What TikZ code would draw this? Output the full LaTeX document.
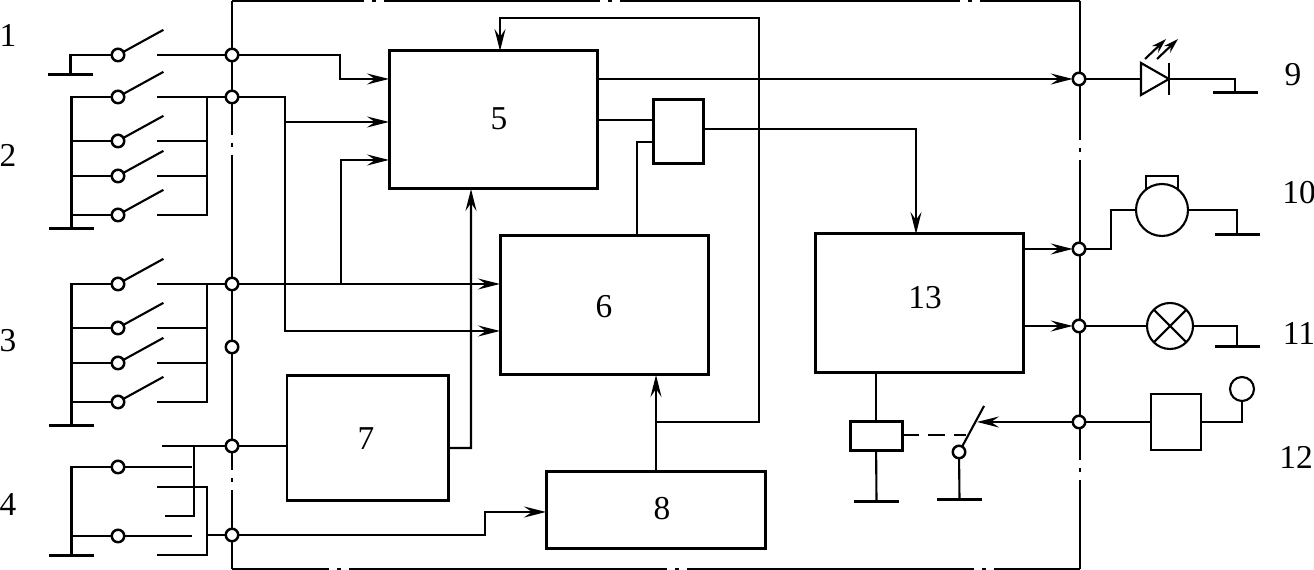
\documentclass[tikz,border=0pt]{standalone}
\usepackage{fontspec}
\setmainfont{Liberation Serif}
\usetikzlibrary{arrows.meta, positioning, calc}

\begin{document}
\begin{tikzpicture}[
    line width=0.6pt,
    >={Stealth[length=0.22cm, width=0.11cm, inset=0.08cm]},
    block/.style={rectangle, draw, line width=0.85pt, inner sep=0pt, outer sep=0pt},
    plainbox/.style={rectangle, draw, inner sep=0pt, outer sep=0pt},
    term/.style={circle, draw, fill=white, line width=0.7pt, minimum size=0.125cm, inner sep=0pt, outer sep=0pt},
    gnd/.style={rectangle, fill=black, minimum width=0.45cm, minimum height=0.03cm, inner sep=0pt, outer sep=0pt},
    round/.style={circle, draw, inner sep=0pt, outer sep=0pt},
    num/.style={font=\fontsize{9.5}{12}\selectfont, inner sep=0pt},
    arrow/.style={->},
]

\useasboundingbox (0, 0) rectangle (13.14, -5.70);

% === Frame, broken by dash-dots ===

\draw[line width=0.75pt] (2.32, -0.01) -- (3.64, -0.01) (3.72, -0.01) -- (3.76, -0.01)
    (3.84, -0.01) -- (6.00, -0.01) (6.08, -0.01) -- (6.12, -0.01)
    (6.20, -0.01) -- (9.60, -0.01) (9.68, -0.01) -- (9.72, -0.01)
    (9.80, -0.01) -- (10.80, -0.01);
\draw[line width=0.75pt] (10.80, -0.01) -- (10.80, -1.40) (10.80, -1.48) -- (10.80, -1.52)
    (10.80, -1.60) -- (10.80, -4.60) (10.80, -4.68) -- (10.80, -4.72)
    (10.80, -4.80) -- (10.80, -5.69);
\draw[line width=0.75pt] (2.32, -5.69) -- (3.29, -5.69) (3.37, -5.69) -- (3.41, -5.69)
    (3.49, -5.69) -- (6.67, -5.69) (6.75, -5.69) -- (6.79, -5.69)
    (6.87, -5.69) -- (9.74, -5.69) (9.82, -5.69) -- (9.86, -5.69)
    (9.94, -5.69) -- (10.80, -5.69);
\draw[line width=0.75pt] (2.32, -0.01) -- (2.32, -1.35) (2.32, -1.43) -- (2.32, -1.47)
    (2.32, -1.55) -- (2.32, -4.70) (2.32, -4.78) -- (2.32, -4.82)
    (2.32, -4.90) -- (2.32, -5.69);

% === Blocks ===

\node[block, minimum width=2.08cm, minimum height=1.38cm] (b5) at (4.93, -1.20) {};
\node[block, minimum width=2.08cm, minimum height=1.39cm] (b6) at (6.04, -3.055) {};
\node[block, minimum width=1.61cm, minimum height=1.25cm] (b7) at (3.675, -4.385) {};
\node[block, minimum width=2.19cm, minimum height=0.77cm] (b8) at (6.555, -5.105) {};
\node[block, minimum width=2.08cm, minimum height=1.39cm] (b13) at (9.19, -3.035) {};
\node[block, minimum width=0.50cm, minimum height=0.64cm] (gate) at (6.78, -1.32) {};

\node[num] at (4.99, -1.19) {5};
\node[num] at (6.04, -3.07) {6};
\node[num] at (3.66, -4.39) {7};
\node[num] at (6.62, -5.09) {8};
\node[num] at (9.25, -2.98) {13};

% Outer numbers
\node[num] at (0.08, -0.35) {1};
\node[num] at (0.08, -1.55) {2};
\node[num] at (0.08, -3.41) {3};
\node[num] at (0.08, -5.05) {4};
\node[num] at (12.93, -0.75) {9};
\node[num] at (12.99, -1.93) {10};
\node[num] at (12.99, -3.33) {11};
\node[num] at (12.96, -4.57) {12};

% === Terminals on the frame ===

\node[term] (t1) at (2.32, -0.55) {};
\node[term] (t2) at (2.32, -0.97) {};
\node[term] (t3) at (2.32, -2.84) {};
\node[term] (t0) at (2.32, -3.47) {};
\node[term] (t4) at (2.32, -4.46) {};
\node[term] (t5) at (2.32, -5.35) {};
\node[term] (t9) at (10.79, -0.79) {};
\node[term] (t10) at (10.79, -2.49) {};
\node[term] (t11) at (10.79, -3.26) {};
\node[term] (t12) at (10.79, -4.22) {};

% === LEFT SIDE: switch groups ===

\node[gnd] (g1) at (0.705, -0.75) {};
\node[gnd] (g2) at (0.715, -2.29) {};
\node[gnd] (g3) at (0.715, -4.26) {};
\node[gnd] (g4) at (0.715, -5.56) {};

\node[term] (s1) at (1.18, -0.55) {};
\node[term] (s21) at (1.18, -0.97) {};
\node[term] (s22) at (1.18, -1.41) {};
\node[term] (s23) at (1.18, -1.76) {};
\node[term] (s24) at (1.18, -2.15) {};
\node[term] (s31) at (1.18, -2.84) {};
\node[term] (s32) at (1.18, -3.28) {};
\node[term] (s33) at (1.18, -3.63) {};
\node[term] (s34) at (1.18, -4.02) {};
\node[term] (s41) at (1.18, -4.67) {};
\node[term] (s42) at (1.18, -5.36) {};

\draw (s1.30) -- ++(0.40, 0.22);
\draw (s21.30) -- ++(0.40, 0.22);
\draw (s22.30) -- ++(0.40, 0.22);
\draw (s23.30) -- ++(0.40, 0.22);
\draw (s24.30) -- ++(0.40, 0.22);
\draw (s31.30) -- ++(0.40, 0.22);
\draw (s32.30) -- ++(0.40, 0.22);
\draw (s33.30) -- ++(0.40, 0.22);
\draw (s34.30) -- ++(0.40, 0.22);

% Group 1
\draw (s1) -| (g1);
\draw (t1) -- (1.57, -0.55);

% Group 2
\draw (s21) -| (g2);
\draw (s22) -- (s22 -| g2);
\draw (s23) -- (s23 -| g2);
\draw (s24) -- (s24 -| g2);
\draw (t2) -- (1.57, -0.97);
\draw (2.07, -0.97) -- (2.07, -2.15) -- (1.57, -2.15);
\draw (1.57, -1.41) -- (2.07, -1.41);
\draw (1.57, -1.76) -- (2.07, -1.76);

% Group 3
\draw (s31) -| (g3);
\draw (s32) -- (s32 -| g3);
\draw (s33) -- (s33 -| g3);
\draw (s34) -- (s34 -| g3);
\draw (t3) -- (1.57, -2.84);
\draw (2.07, -2.84) -- (2.07, -4.02) -- (1.57, -4.02);
\draw (1.57, -3.28) -- (2.07, -3.28);
\draw (1.57, -3.63) -- (2.07, -3.63);

% Group 4
\draw (s41) -| (g4);
\draw (s42) -- (s42 -| g4);
\draw (s41) -- (1.92, -4.67);
\draw (s42) -- (1.92, -5.36);
\draw (t4) -- (1.62, -4.46);
\draw (1.94, -4.46) -- (1.94, -5.16) -- (1.65, -5.16);
\draw (1.57, -4.87) -- (2.07, -4.87) -- (2.07, -5.55) -- (1.57, -5.55);
\draw (t5) -- (2.07, -5.35);

% === Signals into the blocks ===

\draw[arrow] (t1) -- ++(1.08, 0) |- (b5.west |- 0, -0.79);
\draw[arrow] (2.85, -1.22) -- (b5.west |- 0, -1.22);
\draw[arrow] (t2) -- ++(0.53, 0) |- (b6.west |- 0, -3.31);
\draw[arrow] (t3) -- (t3 -| b6.west);
\draw[arrow] (3.41, -2.84) |- (b5.west |- 0, -1.60);
\draw (t4) -- (t4 -| b7.west);
\draw[arrow] (b7.east |- 0, -4.48) -- ++(0.23, 0) -- (b5.south -| 4.71, 0);
\draw[arrow] (t5) -- ++(2.53, 0) |- (b8.west |- 0, -5.12);
\draw[arrow] (b8.north -| 6.56, 0) -- (b6.south -| 6.56, 0);
\draw[arrow] (6.56, -4.22) -| (7.59, -0.18) -| (b5.north -| 5.00, 0);

% === Signals out of the blocks ===

\draw (b5.east) -- (b5.east -| gate.west);
\draw (b6.north -| 6.37, 0) |- (gate.west |- 0, -1.42);
\draw[arrow] (gate.east |- 0, -1.29) -| (b13.north -| 9.16, 0);
\draw[arrow] (b5.east |- t9) -- (t9);
\draw[arrow] (b13.east |- t10) -- (t10);
\draw[arrow] (b13.east |- t11) -- (t11);

% === RIGHT SIDE: loads ===

% Diode
\coordinate (da) at (11.41, -0.79);
\coordinate (dk) at (11.69, -0.79);
\node[gnd] (g9) at (12.35, -0.93) {};
\draw (t9) -- (da);
\draw (11.41, -0.63) -- (dk) -- (11.41, -0.95) -- cycle;
\draw (11.69, -0.63) -- (11.69, -0.95);
\draw (dk) -| (g9);
\draw[->, >={Stealth[length=0.15cm, width=0.09cm, inset=0.05cm]}] (11.45, -0.59) -- (11.66, -0.39);
\draw[->, >={Stealth[length=0.15cm, width=0.09cm, inset=0.05cm]}] (11.57, -0.59) -- (11.78, -0.39);

% Motor
\node[round, minimum size=0.52cm] (motor) at (11.62, -2.10) {};
\node[gnd] (g10) at (12.37, -2.35) {};
\draw (t10) -- ++(0.32, 0) |- (motor);
\draw (motor) -| (g10);
\draw (11.46, -1.90) -- (11.46, -1.76) -- (11.78, -1.76) -- (11.78, -1.90);

% Lamp
\node[round, minimum size=0.46cm] (lamp) at (11.70, -3.26) {};
\node[gnd] (g11) at (12.37, -3.47) {};
\draw (t11) -- (lamp);
\draw (lamp) -| (g11);
\draw (lamp.45) -- (lamp.225);
\draw (lamp.135) -- (lamp.315);

% Sensor input
\node[plainbox, minimum width=0.50cm, minimum height=0.56cm] (sens) at (11.76, -4.22) {};
\node[round, minimum size=0.24cm] (ant) at (12.42, -3.89) {};
\draw (t12) -- (sens);
\draw (sens) -| (ant);

% Relay and its contact
\node[block, minimum width=0.52cm, minimum height=0.29cm] (relay) at (8.76, -4.365) {};
\node[term] (s12) at (9.59, -4.52) {};
\node[gnd] (g13) at (8.765, -5.02) {};
\node[gnd] (g12) at (9.595, -5.00) {};
\draw (relay |- b13.south) -- (relay);
\draw (relay) -- (g13);
\draw (s12) -- (g12);
\draw (s12.60) -- (9.84, -4.06);
\draw[arrow] (t12) -- (9.77, -4.22);
\draw[dash pattern=on 0.17cm off 0.09cm] (relay.east |- 0, -4.35) -- (9.66, -4.35);

\end{tikzpicture}
\end{document}
